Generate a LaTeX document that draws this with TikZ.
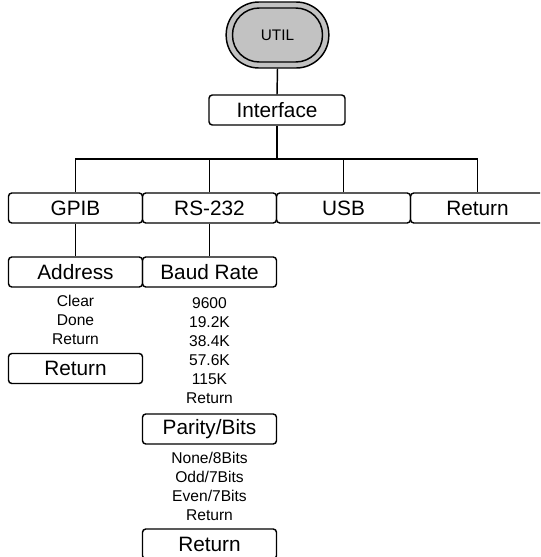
\documentclass[tikz,border=0pt]{standalone}
\usepackage{fontspec}
\setmainfont{Liberation Sans}
\begin{document}
\begin{tikzpicture}[x=0.75pt,y=-0.75pt,
  menubox/.style={draw=black, line width=1.1pt, rounded corners=2.5pt, minimum width=100.5pt, minimum height=22.5pt, inner sep=0pt, font=\fontsize{15.6}{18}\selectfont},
  item/.style={inner sep=0pt, font=\fontsize{11.7}{13}\selectfont},
  conn/.style={line width=1.1pt},
  utilouter/.style={draw=black, line width=1.1pt, fill=black!24, rounded corners=24.5pt, minimum width=77pt, minimum height=49.5pt},
  utilinner/.style={draw=black, line width=1.1pt, rounded corners=20pt, minimum width=67.5pt, minimum height=40.5pt, font=\fontsize{11.5}{13}\selectfont}
]
\useasboundingbox (0,0) rectangle (540,557);
\clip (0,0) rectangle (540,557);
% UTIL
\node[utilouter] (utilo) at (277.5,35) {};
\node[utilinner] (util) at (277.5,35) {UTIL};
% Interface
\node[menubox, minimum width=102pt] (iface) at (277,110) {Interface};
% Row 1
\node[menubox] (gpib) at (75.5,208) {GPIB};
\node[menubox] (rs) at (209.5,208) {RS-232};
\node[menubox] (usb) at (343.5,208) {USB};
\node[menubox] (ret1) at (477.5,208) {Return};
\coordinate (bar) at (277,159);
% Row 2
\node[menubox] (addr) at (75.5,272) {Address};
\node[menubox] (baud) at (209.5,272) {Baud Rate};
% Address items
\node[item] (clear) at (75.5,301) {Clear};
\node[item] (done) at (75.5,320) {Done};
\node[item] (aret) at (75.5,339) {Return};
\node[menubox] (ret2) at (75.5,368.5) {Return};
% Baud items
\node[item] (b1) at (209.5,303) {9600};
\node[item] (b2) at (209.5,322) {19.2K};
\node[item] (b3) at (209.5,341) {38.4K};
\node[item] (b4) at (209.5,360) {57.6K};
\node[item] (b5) at (209.5,379) {115K};
\node[item] (b6) at (209.5,398) {Return};
\node[menubox] (parity) at (209.5,429) {Parity/Bits};
\node[item] (p1) at (209.5,458) {None/8Bits};
\node[item] (p2) at (209.5,477) {Odd/7Bits};
\node[item] (p3) at (209.5,496) {Even/7Bits};
\node[item] (p4) at (209.5,515) {Return};
\node[menubox] (ret3) at (209.5,544) {Return};
% Connectors
\draw[conn] (utilo.south) -- (iface.north);
\draw[conn] (iface.south) -- (bar);
\draw[conn] (gpib.north) |- (bar) -| (ret1.north);
\draw[conn] (rs.north) -- (rs.north |- bar);
\draw[conn] (usb.north) -- (usb.north |- bar);
\draw[conn] (gpib.south) -- (addr.north);
\draw[conn] (rs.south) -- (baud.north);
\end{tikzpicture}
\end{document}
